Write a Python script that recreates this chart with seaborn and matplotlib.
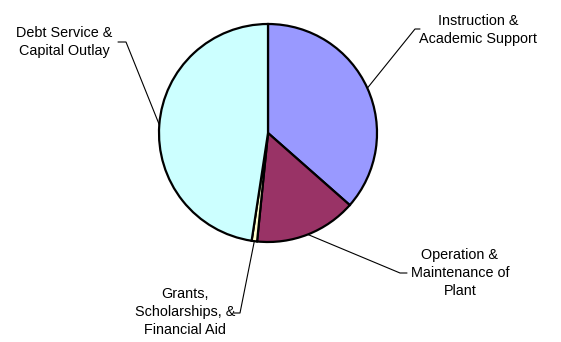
import numpy as np
import matplotlib
matplotlib.use("Agg")
import matplotlib.pyplot as plt
import seaborn as sns

# Slice data (clockwise from 12 o'clock), share of total in percent
categories = ["Instruction &\nAcademic Support",
              "Operation &\nMaintenance of\nPlant",
              "Grants,\nScholarships, &\nFinancial Aid",
              "Debt Service &\nCapital Outlay"]
shares = [36.5, 15.1, 0.8, 47.6]
colors = ["#9999FF", "#993366", "#FFFFCC", "#CCFFFF"]

sns.set_theme(style="white")
plt.rcParams['font.family'] = ['Liberation Sans', 'DejaVu Sans']

W, H = 561, 342
fig = plt.figure(figsize=(W / 100, H / 100), dpi=100)
ax = fig.add_axes([0, 0, 1, 1])

cx, cy, r = 268, H - 133, 109
wedges, _ = ax.pie(shares, colors=colors, startangle=90, counterclock=False,
                   center=(cx, cy), radius=r,
                   wedgeprops=dict(edgecolor="black", linewidth=1.6))
ax.set_xlim(0, W)
ax.set_ylim(0, H)
ax.set_aspect("equal")
ax.axis("off")

# label layout: (elbow point, tick end, text centre) in pixel coords from top
layout = [
    ((415, 29), (420, 29), (478, 30)),
    ((400, 273), (407, 273), (460, 273)),
    ((240, 313), (234, 313), (185, 312)),
    ((126, 42), (118, 42), (64, 42)),
]

for w, label, (elbow, tick, txt) in zip(wedges, categories, layout):
    mid = np.deg2rad((w.theta1 + w.theta2) / 2)
    ex, ey = cx + r * np.cos(mid), cy + r * np.sin(mid)
    xs = [ex, elbow[0], tick[0]]
    ys = [ey, H - elbow[1], H - tick[1]]
    ax.plot(xs, ys, color="black", linewidth=0.8, zorder=0)
    ax.text(txt[0], H - txt[1], label, ha="center", va="center",
            fontsize=10.4, linespacing=1.33, color="black")

fig.savefig("out.png", dpi=100)
